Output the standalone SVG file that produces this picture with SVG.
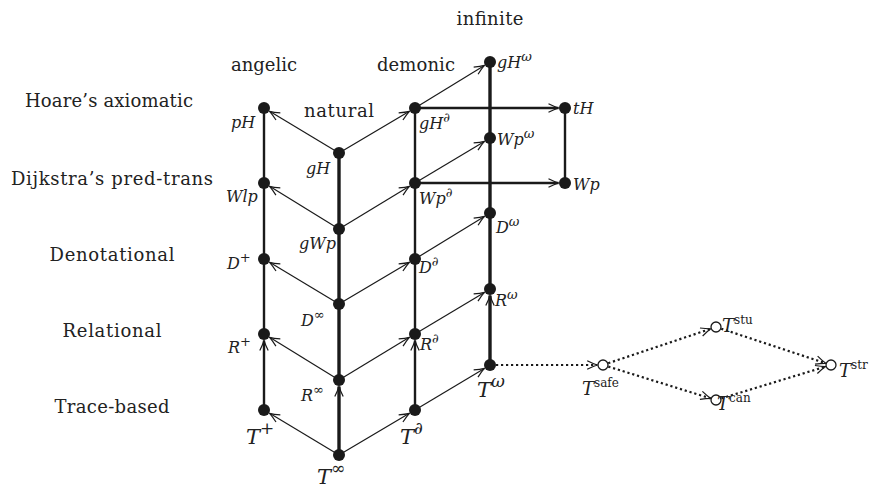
<svg xmlns="http://www.w3.org/2000/svg" width="875" height="490" viewBox="0 0 875 490" font-family="'DejaVu Serif', serif">
<style>
  text { font-family: "DejaVu Serif", "Liberation Serif", serif; fill: #222; }
  .lbl { font-size: 18px; }
  .m { font-style: italic; font-size: 16px; }
  .mb { font-style: italic; font-size: 21px; }
  .mt { font-style: italic; font-size: 18px; }
  .sup { font-size: 13px; }
  .supb { font-size: 17px; }
  .supr { font-style: normal; font-size: 12px; }
  .dot { fill: #1a1a1a; }
  .odot { fill: #fff; stroke: #1a1a1a; stroke-width: 1.3; }
  .v { stroke: #1a1a1a; stroke-width: 2.4; fill: none; }
  .vt { stroke: #1a1a1a; stroke-width: 3.4; fill: none; }
  .d { stroke: #1a1a1a; stroke-width: 1.2; fill: none; marker-end: url(#ah); }
  .va { marker-end: url(#ah); }
  .dt { stroke: #1a1a1a; stroke-width: 2.2; stroke-dasharray: 2.2 2.8; fill: none; marker-end: url(#ah); }
</style>
<defs>
  <marker id="ah" markerUnits="userSpaceOnUse" viewBox="-11 -6 12 12" refX="0" refY="0" markerWidth="12" markerHeight="12" orient="auto" overflow="visible">
    <path d="M-10,-4.2 Q-4,-1.2 0,0 Q-4,1.2 -10,4.2" fill="none" stroke="#1a1a1a" stroke-width="1.2" stroke-dasharray="none"/>
  </marker>
</defs>

<g id="headers">
  <text class="lbl" x="490" y="25" text-anchor="middle" textLength="67">infinite</text>
  <text class="lbl" x="264" y="71" text-anchor="middle" textLength="66">angelic</text>
  <text class="lbl" x="416" y="71" text-anchor="middle" textLength="78">demonic</text>
  <text class="lbl" x="339" y="117" text-anchor="middle" textLength="70">natural</text>
  <text class="lbl" x="109" y="107" text-anchor="middle" textLength="168">Hoare’s axiomatic</text>
  <text class="lbl" x="112" y="185" text-anchor="middle" textLength="202">Dijkstra’s pred-trans</text>
  <text class="lbl" x="112" y="261" text-anchor="middle" textLength="125">Denotational</text>
  <text class="lbl" x="112" y="337" text-anchor="middle" textLength="99">Relational</text>
  <text class="lbl" x="112" y="413" text-anchor="middle" textLength="115">Trace-based</text>
</g>

<g id="connectors">
  <line class="v" x1="264" y1="108" x2="264" y2="334"/>
  <line class="v va" x1="264" y1="410" x2="264" y2="340.5"/>
  <line class="vt" x1="339" y1="153" x2="339" y2="380"/>
  <line class="vt va" x1="339" y1="455" x2="339" y2="386.5"/>
  <line class="v" x1="415" y1="108" x2="415" y2="334"/>
  <line class="v va" x1="415" y1="410" x2="415" y2="340.5"/>
  <line class="vt" x1="490" y1="62" x2="490" y2="289"/>
  <line class="vt va" x1="490" y1="365" x2="490" y2="295.5"/>
  <line class="v" x1="565" y1="108" x2="565" y2="183"/>
  <line class="v va" x1="415" y1="108" x2="558.5" y2="108"/>
  <line class="v va" x1="415" y1="183" x2="558.5" y2="183"/>
  <line class="d" x1="339" y1="153" x2="269.6" y2="111.3"/>
  <line class="d" x1="339" y1="229" x2="269.6" y2="186.3"/>
  <line class="d" x1="339" y1="304" x2="269.6" y2="262.3"/>
  <line class="d" x1="339" y1="380" x2="269.6" y2="337.3"/>
  <line class="d" x1="339" y1="455" x2="269.6" y2="413.3"/>
  <line class="d" x1="339" y1="153" x2="409.4" y2="111.3"/>
  <line class="d" x1="339" y1="229" x2="409.4" y2="186.3"/>
  <line class="d" x1="339" y1="304" x2="409.4" y2="262.3"/>
  <line class="d" x1="339" y1="380" x2="409.4" y2="337.3"/>
  <line class="d" x1="339" y1="455" x2="409.4" y2="413.3"/>
  <line class="d" x1="415" y1="108" x2="484.4" y2="65.4"/>
  <line class="d" x1="415" y1="183" x2="484.4" y2="141.4"/>
  <line class="d" x1="415" y1="259" x2="484.4" y2="216.4"/>
  <line class="d" x1="415" y1="334" x2="484.4" y2="292.4"/>
  <line class="d" x1="415" y1="410" x2="484.4" y2="368.4"/>
  <line class="dt" x1="496" y1="365" x2="597.2" y2="365"/>
  <line class="dt" x1="608.2" y1="363.2" x2="710.8" y2="328.8"/>
  <line class="dt" x1="608.3" y1="366.6" x2="710.7" y2="398.4"/>
  <line class="dt" x1="721.2" y1="328.7" x2="825.8" y2="363.3"/>
  <line class="dt" x1="721.3" y1="398.4" x2="825.7" y2="366.6"/>
</g>

<g id="pH"><circle class="dot" cx="264" cy="108" r="6"/><text class="m" x="231" y="128">pH</text></g>
<g id="Wlp"><circle class="dot" cx="264" cy="183" r="6"/><text class="m" x="226" y="202">Wlp</text></g>
<g id="Dplus"><circle class="dot" cx="264" cy="259" r="6"/><text class="m" x="227" y="269">D<tspan class="sup" dy="-7">+</tspan></text></g>
<g id="Rplus"><circle class="dot" cx="264" cy="334" r="6"/><text class="m" x="228" y="353">R<tspan class="sup" dy="-7">+</tspan></text></g>
<g id="Tplus"><circle class="dot" cx="264" cy="410" r="6"/><text class="mb" x="246" y="444">T<tspan class="supb" dy="-10">+</tspan></text></g>

<g id="gH"><circle class="dot" cx="339" cy="153" r="6"/><text class="m" x="306" y="174">gH</text></g>
<g id="gWp"><circle class="dot" cx="339" cy="229" r="6"/><text class="m" x="299" y="249">gWp</text></g>
<g id="Dinf"><circle class="dot" cx="339" cy="304" r="6"/><text class="m" x="301" y="326">D<tspan class="sup" dy="-7">∞</tspan></text></g>
<g id="Rinf"><circle class="dot" cx="339" cy="380" r="6"/><text class="m" x="301" y="401">R<tspan class="sup" dy="-7">∞</tspan></text></g>
<g id="Tinf"><circle class="dot" cx="339" cy="455" r="6"/><text class="mb" x="317" y="484">T<tspan class="supb" dy="-10">∞</tspan></text></g>

<g id="gHd"><circle class="dot" cx="415" cy="108" r="6"/><text class="m" x="419" y="129">gH<tspan class="sup" dy="-7">∂</tspan></text></g>
<g id="Wpd"><circle class="dot" cx="415" cy="183" r="6"/><text class="m" x="419" y="204">Wp<tspan class="sup" dy="-7">∂</tspan></text></g>
<g id="Dd"><circle class="dot" cx="415" cy="259" r="6"/><text class="m" x="419" y="273">D<tspan class="sup" dy="-7">∂</tspan></text></g>
<g id="Rd"><circle class="dot" cx="415" cy="334" r="6"/><text class="m" x="420" y="350">R<tspan class="sup" dy="-7">∂</tspan></text></g>
<g id="Td"><circle class="dot" cx="415" cy="410" r="6"/><text class="mb" x="400" y="444">T<tspan class="supb" dy="-10">∂</tspan></text></g>

<g id="gHw"><circle class="dot" cx="490" cy="62" r="6"/><text class="m" x="497" y="68">gH<tspan class="sup" dy="-7">ω</tspan></text></g>
<g id="Wpw"><circle class="dot" cx="490" cy="138" r="6"/><text class="m" x="497" y="145">Wp<tspan class="sup" dy="-7">ω</tspan></text></g>
<g id="Dw"><circle class="dot" cx="490" cy="213" r="6"/><text class="m" x="496" y="233">D<tspan class="sup" dy="-7">ω</tspan></text></g>
<g id="Rw"><circle class="dot" cx="490" cy="289" r="6"/><text class="m" x="495" y="306">R<tspan class="sup" dy="-7">ω</tspan></text></g>
<g id="Tw"><circle class="dot" cx="490" cy="365" r="6"/><text class="mb" x="477" y="397">T<tspan class="supb" dy="-10">ω</tspan></text></g>

<g id="tH"><circle class="dot" cx="565" cy="108" r="6"/><text class="m" x="573" y="114">tH</text></g>
<g id="Wp"><circle class="dot" cx="565" cy="183" r="6"/><text class="m" x="573" y="190">Wp</text></g>

<g id="Tsafe"><circle class="odot" cx="603" cy="365" r="5"/><text class="mt" x="582" y="395">T<tspan class="supr" dy="-8">safe</tspan></text></g>
<g id="Tstu"><circle class="odot" cx="716" cy="327" r="5"/><text class="mt" x="722" y="332">T<tspan class="supr" dy="-8">stu</tspan></text></g>
<g id="Tcan"><circle class="odot" cx="716" cy="400" r="5"/><text class="mt" x="717" y="410">T<tspan class="supr" dy="-8">can</tspan></text></g>
<g id="Tstr"><circle class="odot" cx="831" cy="365" r="5"/><text class="mt" x="839" y="377">T<tspan class="supr" dy="-8">str</tspan></text></g>
</svg>
